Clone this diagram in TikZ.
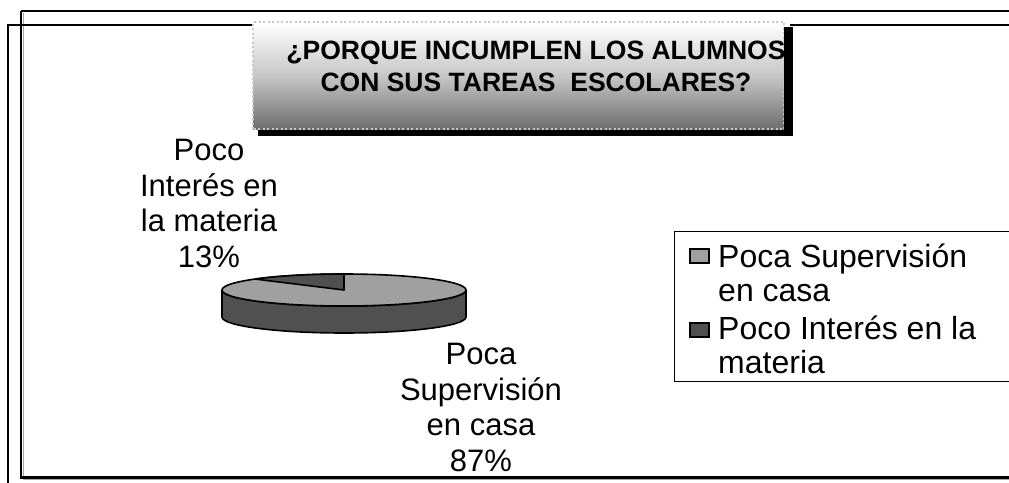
\documentclass[tikz,border=0pt]{standalone}
\usepackage{fontspec}
\setmainfont{Liberation Sans}
\definecolor{lightg}{HTML}{A0A0A0}
\definecolor{darkg}{HTML}{505050}
\newcommand\lblfont{\fontsize{31}{35.5}\selectfont}
\newcommand\lgfont{\fontsize{32}{34}\selectfont}
\newcommand\ttlfont{\fontsize{26.5}{31}\selectfont\bfseries}
\begin{document}
\begin{tikzpicture}[x=1pt,y=-1pt,
  frame/.style={line width=2.2pt,black},
  shadowline/.style={line width=1.6pt,black!35},
  pieline/.style={line width=1.6pt,black,line join=round},
  lbl/.style={font=\lblfont,align=center,inner sep=0pt},
  lgtext/.style={font=\lgfont,align=left,inner sep=0pt,anchor=north west},
  ttl/.style={font=\ttlfont,inner sep=0pt,anchor=base},
  sq/.style={draw=black,line width=1.4pt,minimum width=19pt,minimum height=14pt,inner sep=0pt}]
\useasboundingbox (0,0) rectangle (1009,482);
\clip (0,0) rectangle (1009,482);
% outer frames
\draw[shadowline] (23.5,13) -- (23.5,477);
\draw[shadowline] (23,479.5) -- (1020,479.5);
\draw[frame] (21,11) -- (1020,11);
\draw[frame] (21,11) -- (21,477.5) -- (1020,477.5);
\draw[frame] (8,490) -- (8,25) -- (253,25);
\draw[frame] (790,25) -- (1020,25);
% title box
\shade[top color=white, bottom color=black!57, middle color=black!22] (253,22) rectangle (784,129);
\draw[black!22,line width=1.6pt,dash pattern=on 2pt off 2.5pt] (253,129) -- (253,22) -- (784,22) -- (784,129) -- cycle;
\begin{scope}
\clip (253,22) rectangle (784,129);
\node[ttl] (t1) at (536,59.5) {¿PORQUE INCUMPLEN LOS ALUMNOS};
\node[ttl] (t2) at (536,91) {CON SUS TAREAS\ \ ESCOLARES?};
\end{scope}
\fill[black] (784,27) rectangle (793,136);
\fill[black] (258,130) rectangle (793,136);
% pie
\filldraw[pieline,fill=darkg] (222,290) -- (222,317)
  arc[start angle=180,end angle=0,x radius=122,y radius=16] -- (466,290)
  arc[start angle=0,end angle=180,x radius=122,y radius=16] -- cycle;
\filldraw[pieline,fill=lightg] (344,290) ellipse[x radius=122,y radius=16];
\filldraw[pieline,fill=darkg] (344,290) -- (344,274)
  arc[start angle=270,end angle=223.2,x radius=122,y radius=16] -- cycle;
% data labels
\node[lbl,anchor=north] (l1) at (209,139) {Poco\\Interés en\\la materia\\13\%};
\node[lbl,anchor=north] (l2) at (481,343) {Poca\\Supervisión\\en casa\\87\%};
% legend
\draw[line width=1pt,black] (674,231) rectangle (1020,381);
\node[sq,fill=lightg] (sq1) at (699.5,256) {};
\node[sq,fill=darkg] (sq2) at (699.5,330) {};
\node[lgtext] (lg1) at (718,244) {Poca Supervisión\\en casa};
\node[lgtext] (lg2) at (718,316) {Poco Interés en la\\materia};
\end{tikzpicture}
\end{document}
